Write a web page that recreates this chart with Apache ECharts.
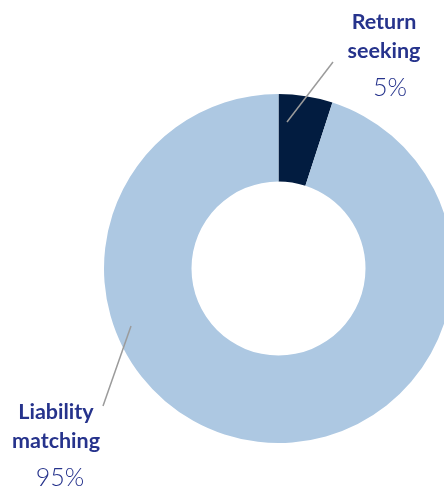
<!DOCTYPE html>
<html>
<head>
<meta charset="utf-8">
<script src="https://cdn.jsdelivr.net/npm/echarts@6/dist/echarts.min.js"></script>
<style>
  html, body { margin: 0; padding: 0; background: #fff; }
  #chart { width: 444px; height: 486px; }
</style>
</head>
<body>
<div id="chart"></div>
<script>
const categories = ['Return\nseeking', 'Liability\nmatching'];
const shares = [5, 95];
const colors = ['#021c40', '#adc8e2'];

// where each label sits and where its leader line runs
const labelSpots = [
  { x: 384, y: 8, line: [[287, 122], [333, 62]] },
  { x: 56, y: 398, line: [[131, 326], [103, 406]] }
];

const ring = {
  center: [278.5, 268.5],
  radius: [87, 174.5],
  startAngle: 90,
  clockwise: true
};

const chart = echarts.init(document.getElementById('chart'));

chart.setOption({
  animation: false,
  series: [
    // the ring itself
    Object.assign({
      type: 'pie',
      silent: true,
      z: 2,
      label: { show: false },
      labelLine: { show: false },
      data: categories.map((name, i) => ({
        name: name,
        value: shares[i],
        itemStyle: { color: colors[i] }
      }))
    }, ring),
    // same slices, invisible, so the labels and leader lines sit on top
    Object.assign({
      type: 'pie',
      silent: true,
      z: 5,
      itemStyle: { color: 'rgba(0,0,0,0)' },
      label: {
        show: true,
        formatter: function (p) {
          const pad = p.dataIndex === 0 ? '{gap|}' : '{gap2|}';
          return '{name|' + p.name + '}\n' + pad + '{pct|' + p.percent + '%}';
        },
        rich: {
          name: {
            fontFamily: 'Lato',
            fontWeight: 'bold',
            fontSize: 21.5,
            lineHeight: 29,
            color: '#26338c',
            align: 'center'
          },
          pct: {
            fontFamily: 'Lato',
            fontWeight: 300,
            fontSize: 25,
            lineHeight: 44,
            color: '#26338c'
          },
          gap: { width: 12 },
          gap2: { width: 8 }
        }
      },
      labelLine: {
        show: true,
        lineStyle: { color: '#9b9b9b', width: 1.5 }
      },
      labelLayout: function (params) {
        const s = labelSpots[params.dataIndex];
        return {
          x: s.x,
          y: s.y,
          align: 'center',
          verticalAlign: 'top',
          labelLinePoints: [s.line[0], s.line[1], s.line[1]]
        };
      },
      data: categories.map((name, i) => ({ name: name, value: shares[i] }))
    }, ring)
  ]
});
</script>
</body>
</html>
